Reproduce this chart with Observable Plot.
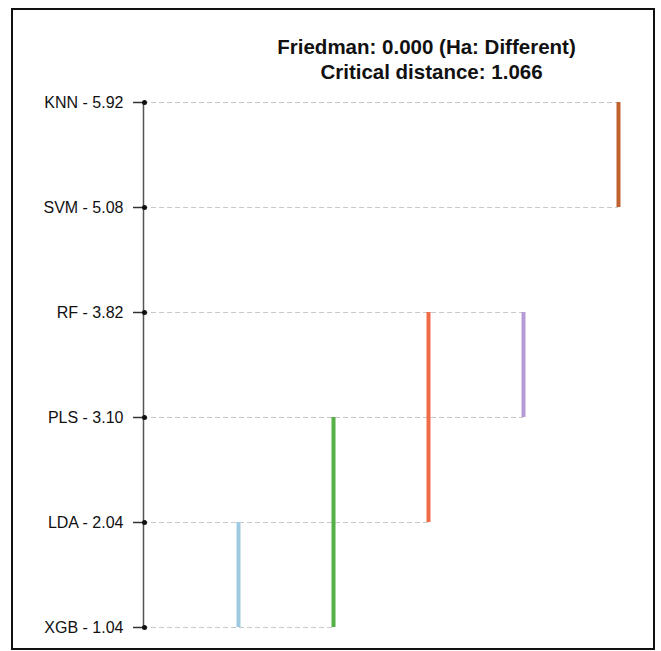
<!DOCTYPE html>
<html>
<head>
<meta charset="utf-8">
<script src="https://cdn.jsdelivr.net/npm/d3@7"></script>
<script src="https://cdn.jsdelivr.net/npm/@observablehq/plot@0.6"></script>
<style>
  html, body { margin: 0; padding: 0; background: #fff; }
  #wrap { position: relative; width: 661px; height: 651px; overflow: hidden; font-family: "Liberation Sans", Arial, sans-serif; }
  #frame { position: absolute; left: 11px; top: 8px; width: 644px; height: 642px; border: 2px solid #111; box-sizing: border-box; }
  #title { position: absolute; left: 0; top: 34px; width: 661px; height: 60px; text-align: center; font-weight: bold; font-size: 20.5px; line-height: 25px; color: #111; }
  #title .l1 { position: relative; left: 96px; }
  #title .l2 { position: relative; left: 101px; }
  #chart { position: absolute; left: 0; top: 90px; }
</style>
</head>
<body>
<div id="wrap">
  <div id="frame"></div>
  <div id="title"></div>
  <div id="chart"></div>
</div>
<script>
// ---- data ----
const methods = ["KNN", "SVM", "RF", "PLS", "LDA", "XGB"];
const meanRanks = [5.92, 5.08, 3.82, 3.10, 2.04, 1.04];
const groupFrom = ["LDA", "PLS", "RF", "RF", "KNN"];
const groupTo = ["XGB", "XGB", "LDA", "PLS", "SVM"];
const groupColors = ["#9ecae1", "#55b046", "#f26b47", "#b69ad6", "#c1622e"];
const friedmanP = "0.000";
const friedmanResult = "Ha: Different";
const criticalDistance = 1.066;

// ---- title ----
const title = document.getElementById("title");
const l1 = document.createElement("div");
l1.className = "l1";
l1.textContent = `Friedman: ${friedmanP} (${friedmanResult})`;
const l2 = document.createElement("div");
l2.className = "l2";
l2.textContent = `Critical distance: ${criticalDistance.toFixed(3)}`;
title.append(l1, l2);

// ---- derived tables ----
const groups = groupFrom.map((f, i) => ({from: f, to: groupTo[i], col: i + 1, color: groupColors[i]}));
const rows = methods.map((m, i) => {
  const cols = groups.filter(g => g.from === m || g.to === m).map(g => g.col);
  return {method: m, rank: meanRanks[i], ext: cols.length ? d3.max(cols) : 0};
});
const labelOf = new Map(rows.map(r => [r.method, `${r.method} - ${r.rank.toFixed(2)}`]));
const axisSpan = [{x: 0, top: methods[0], bottom: methods[methods.length - 1]}];

const chart = Plot.plot({
  width: 661,
  height: 561,
  marginLeft: 143,
  marginRight: 43,
  marginTop: 12,
  marginBottom: 24,
  style: {fontFamily: "'Liberation Sans', Arial, sans-serif", color: "#222", background: "transparent"},
  x: {domain: [0, groups.length], axis: null},
  y: {type: "point", domain: methods, padding: 0},
  color: {type: "identity"},
  marks: [
    Plot.ruleY(rows, {y: "method", x1: 0, x2: "ext", stroke: "#c8c8c8", strokeWidth: 1, strokeDasharray: "5,3"}),
    Plot.ruleX(axisSpan, {x: "x", y1: "top", y2: "bottom", stroke: "#555", strokeWidth: 1.5}),
    Plot.axisY({tickSize: 10, tickPadding: 10, fontSize: 16, tickFormat: m => labelOf.get(m), stroke: "#333", strokeWidth: 1.5, fill: "#111"}),
    Plot.dot(rows, {x: 0, y: "method", r: 2.5, fill: "#111", dx: 1}),
    Plot.ruleX(groups, {x: "col", y1: "from", y2: "to", stroke: "color", strokeWidth: 4})
  ]
});
document.getElementById("chart").append(chart);
</script>
</body>
</html>
